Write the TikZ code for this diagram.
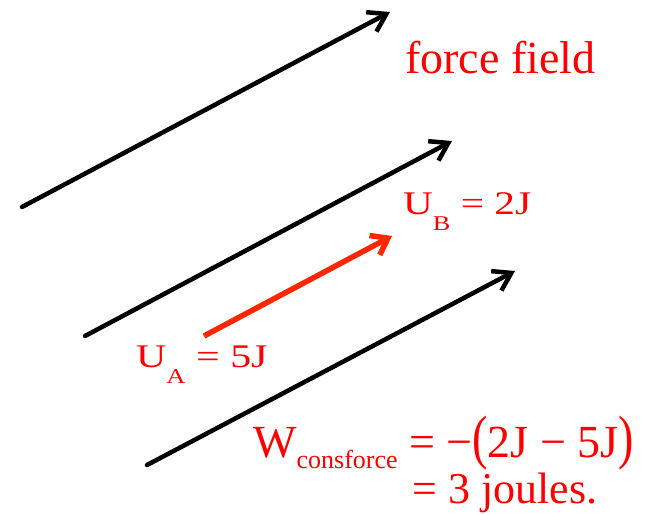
\documentclass[tikz,border=0pt]{standalone}
\usepackage{fontspec}
\setmainfont{Liberation Serif}
\usetikzlibrary{arrows.meta}
\definecolor{labelred}{RGB}{255,0,0}
\definecolor{movered}{RGB}{255,38,0}

\newcommand{\lowsub}[3]{\raisebox{-#1pt}{\fontsize{#2}{#2}\selectfont #3}}
\newcommand{\tallparen}[1]{\scalebox{1}[1.3]{#1}}

\begin{document}
\begin{tikzpicture}[x=1pt, y=-1pt,
  fieldline/.style={line width=4.5pt, line cap=round, line join=round,
                    -{Straight Barb[length=17pt, width=22pt]}},
  moveline/.style={line width=5.5pt, draw=movered, line join=round,
                   -{Straight Barb[length=15pt, width=22pt]}},
  redlabel/.style={text=labelred, inner sep=0pt, anchor=base west}
]
\useasboundingbox (0,0) rectangle (658,514);

% field lines
\coordinate (f1s) at (22,207);
\coordinate (f1e) at (390,12);
\coordinate (f2s) at (85,336);
\coordinate (f2e) at (452,141);
\coordinate (f3s) at (147,465);
\coordinate (f3e) at (515,271);
\draw[fieldline] (f1s) -- (f1e);
\draw[fieldline] (f2s) -- (f2e);
\draw[fieldline] (f3s) -- (f3e);

% move from A to B
\coordinate (pA) at (204,336);
\coordinate (pB) at (392,236);
\draw[moveline] (pA) -- (pB);

% labels
\node[redlabel, font=\fontsize{46}{50}\selectfont] (field) at (405,73) {force field};
\node[redlabel, font=\fontsize{33}{36}\selectfont] (ub) at (403,214)
  {\scalebox{1.25}[1]{U\lowsub{16}{21}{B} = 2J}};
\node[redlabel, font=\fontsize{33}{36}\selectfont] (ua) at (136,367)
  {\scalebox{1.27}[1]{U\lowsub{16}{21}{A} = 5J}};
\node[redlabel, font=\fontsize{46}{48}\selectfont] (wline) at (253,457)
  {W\lowsub{11}{26}{consforce} = −\tallparen{(}2J − 5J\tallparen{)}};
\node[redlabel, font=\fontsize{44}{48}\selectfont] (wres) at (412,503)
  {= 3 joules.};
\end{tikzpicture}
\end{document}
